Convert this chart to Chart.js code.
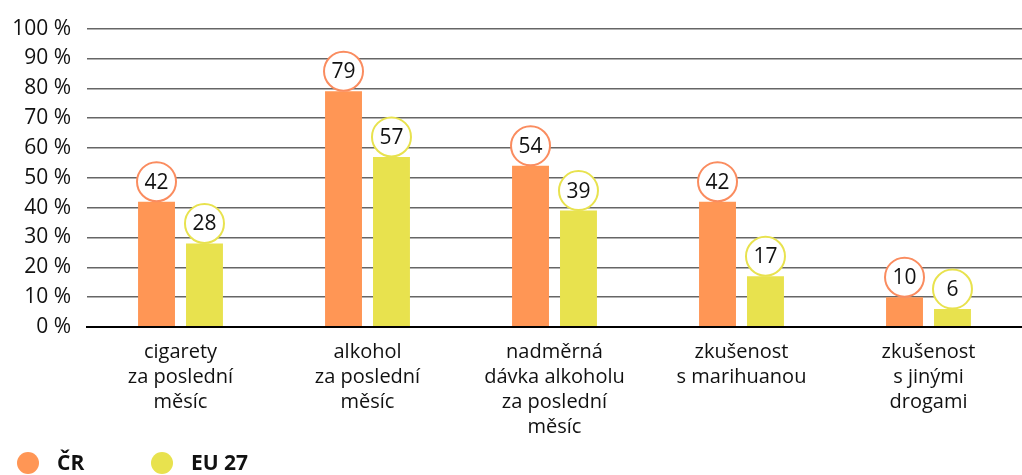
<!DOCTYPE html>
<html>
<head>
<meta charset="utf-8">
<script src="https://cdn.jsdelivr.net/npm/chart.js@4"></script>
<style>
  html, body { margin: 0; padding: 0; background: #fff; }
  #wrap { position: relative; width: 1022px; height: 475px; }
  #legend { position: absolute; left: 0; top: 448px; font-family: "Open Sans", sans-serif; font-weight: bold; font-size: 21px; color: #111; }
  .item { position: absolute; top: 0; white-space: nowrap; }
  .dot { position: absolute; top: 4px; width: 22px; height: 22px; border-radius: 50%; }
</style>
</head>
<body>
<div id="wrap">
  <canvas id="c" width="1022" height="475"></canvas>
  <div id="legend"></div>
</div>
<script>
const categories = [
  ['cigarety', 'za poslední', 'měsíc'],
  ['alkohol', 'za poslední', 'měsíc'],
  ['nadměrná', 'dávka alkoholu', 'za poslední', 'měsíc'],
  ['zkušenost', 's marihuanou'],
  ['zkušenost', 's jinými', 'drogami']
];
const crValues = [42, 79, 54, 42, 10];
const euValues = [28, 57, 39, 17, 6];
const seriesNames = ['ČR', 'EU 27'];
const yTicks = [0, 10, 20, 30, 40, 50, 60, 70, 80, 90, 100];

const orange = 'rgb(255, 150, 85)';
const orangeLine = 'rgb(250, 140, 95)';
const yellow = 'rgb(232, 226, 78)';
const yellowLine = 'rgb(232, 226, 78)';

// bubbles with the value above every bar
const bubbles = {
  id: 'bubbles',
  afterDatasetsDraw(chart) {
    const ctx = chart.ctx;
    chart.data.datasets.forEach((ds, i) => {
      chart.getDatasetMeta(i).data.forEach((bar, j) => {
        const cx = bar.x, cy = bar.y - 20;
        ctx.save();
        ctx.beginPath();
        ctx.arc(cx, cy, 19.5, 0, Math.PI * 2);
        ctx.fillStyle = '#fff';
        ctx.fill();
        ctx.lineWidth = 2;
        ctx.strokeStyle = ds.circleColor;
        ctx.stroke();
        ctx.fillStyle = '#111';
        ctx.font = '21px "Open Sans", sans-serif';
        ctx.textAlign = 'center';
        ctx.textBaseline = 'middle';
        ctx.fillText(ds.data[j], cx, cy + 1);
        ctx.restore();
      });
    });
  }
};

new Chart(document.getElementById('c'), {
  type: 'bar',
  data: {
    labels: categories,
    datasets: [
      { label: seriesNames[0], data: crValues, backgroundColor: orange, circleColor: orangeLine },
      { label: seriesNames[1], data: euValues, backgroundColor: yellow, circleColor: yellowLine }
    ]
  },
  options: {
    responsive: false,
    animation: false,
    layout: { padding: { top: 23, right: 0, left: 0, bottom: 0 } },
    plugins: { legend: { display: false }, tooltip: { enabled: false } },
    datasets: { bar: { categoryPercentage: 0.513, barPercentage: 0.77 } },
    scales: {
      x: {
        grid: { display: false },
        border: { color: '#000', width: 2 },
        ticks: {
          color: '#111',
          padding: 5,
          maxRotation: 0,
          font: { family: '"Open Sans", sans-serif', size: 20, lineHeight: 1.25 }
        },
        afterFit(s) { s.height = 148; }
      },
      y: {
        min: 0,
        max: 100,
        afterBuildTicks(s) { s.ticks = yTicks.map(v => ({ value: v })); },
        grid: {
          color: ctx => ctx.index === 0 ? '#000' : '#666',
          lineWidth: ctx => ctx.index === 0 ? 2 : 1.5,
          drawTicks: false
        },
        border: { display: false },
        ticks: {
          color: '#111',
          padding: 16,
          font: { family: '"Open Sans", sans-serif', size: 21 },
          callback: v => v + ' %'
        },
        afterFit(s) { s.width = 87; }
      }
    }
  },
  plugins: [bubbles]
});

// legend
const legend = document.getElementById('legend');
const legendX = [17, 151];
const legendColors = [orange, yellow];
seriesNames.forEach((name, i) => {
  const item = document.createElement('div');
  item.className = 'item';
  item.style.left = legendX[i] + 'px';
  item.innerHTML = '<span class="dot" style="left:0;background:' + legendColors[i] + '"></span>' +
    '<span style="margin-left:40px">' + name + '</span>';
  legend.appendChild(item);
});
</script>
</body>
</html>
